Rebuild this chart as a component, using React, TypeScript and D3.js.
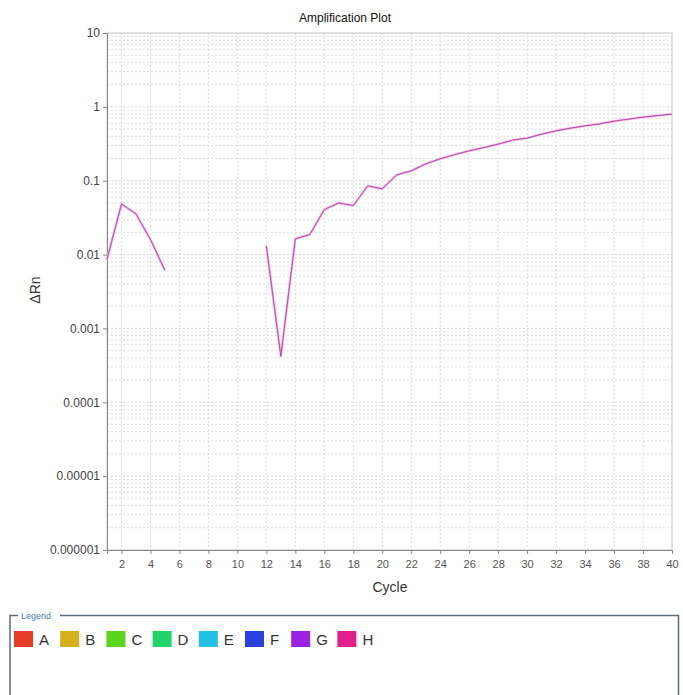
import React, { useEffect, useRef } from "react";
import * as d3 from "d3";

const cycles: number[] = Array.from({ length: 40 }, (_, i) => i + 1);
// ΔRn values per cycle for well H (null = no data)
const deltaRn: (number | null)[] = [
  0.0086, 0.0485, 0.0355, 0.016, 0.0061,
  null, null, null, null, null, null,
  0.013, 0.00042, 0.0163, 0.0187, 0.0406, 0.05, 0.046, 0.0853, 0.0777,
  0.12, 0.136, 0.169, 0.198, 0.226, 0.254, 0.281, 0.313, 0.354, 0.377,
  0.427, 0.474, 0.515, 0.553, 0.589, 0.64, 0.682, 0.726, 0.762, 0.797,
];
const yTickValues: number[] = [10, 1, 0.1, 0.01, 0.001, 0.0001, 0.00001, 0.000001];
const yTickLabels: string[] = ["10", "1", "0.1", "0.01", "0.001", "0.0001", "0.00001", "0.000001"];
const xTickValues: number[] = [2, 4, 6, 8, 10, 12, 14, 16, 18, 20, 22, 24, 26, 28, 30, 32, 34, 36, 38, 40];
const legendNames: string[] = ["A", "B", "C", "D", "E", "F", "G", "H"];
const legendColors: string[] = ["#e63b24", "#d6b01a", "#5ad41c", "#22d36a", "#1fc2e2", "#2a3fe0", "#9a22e0", "#e21f8c"];

const W = 683;
const H = 695;
const M = { left: 107, right: 672, top: 33, bottom: 550 };
const FONT = "'Liberation Sans', Arial, sans-serif";

export default function App() {
  const ref = useRef<SVGSVGElement | null>(null);

  useEffect(() => {
    const svg = d3.select(ref.current);
    svg.selectAll("*").remove();

    const x = d3.scaleLinear().domain([1, 40]).range([M.left, M.right]);
    const y = d3.scaleLog().domain([0.000001, 10]).range([M.bottom, M.top]);

    svg.append("rect").attr("width", W).attr("height", H).attr("fill", "#ffffff");

    // title
    svg.append("text").attr("x", 345).attr("y", 22).attr("text-anchor", "middle")
      .attr("font-family", FONT).attr("font-size", 12).attr("fill", "#111").text("Amplification Plot");

    const grid = svg.append("g");
    // horizontal minor grid
    const minor: number[] = [];
    for (let e = -6; e < 1; e++) {
      for (let m = 2; m <= 9; m++) minor.push(m * Math.pow(10, e));
    }
    grid.selectAll("line.hmin").data(minor).join("line")
      .attr("x1", M.left).attr("x2", M.right)
      .attr("y1", (d) => y(d)).attr("y2", (d) => y(d))
      .attr("stroke", "#dedede").attr("stroke-width", 1).attr("stroke-dasharray", "2,2");
    grid.selectAll("line.hmaj").data(yTickValues).join("line")
      .attr("x1", M.left).attr("x2", M.right)
      .attr("y1", (d) => y(d)).attr("y2", (d) => y(d))
      .attr("stroke", "#d6d6d6").attr("stroke-width", 1).attr("stroke-dasharray", "2,2");
    grid.selectAll("line.v").data(xTickValues).join("line")
      .attr("x1", (d) => x(d)).attr("x2", (d) => x(d))
      .attr("y1", M.top).attr("y2", M.bottom)
      .attr("stroke", "#dcdcdc").attr("stroke-width", 1).attr("stroke-dasharray", "2,2");

    // plot outline
    svg.append("rect").attr("x", M.left).attr("y", M.top)
      .attr("width", M.right - M.left).attr("height", M.bottom - M.top)
      .attr("fill", "none").attr("stroke", "#cccccc");

    // axes
    const yAxis = d3.axisLeft(y).tickValues(yTickValues)
      .tickFormat((d, i) => yTickLabels[i]).tickSize(4).tickPadding(3);
    const gy = svg.append("g").attr("transform", `translate(${M.left},0)`).call(yAxis);
    gy.select(".domain").attr("stroke", "#888");
    gy.selectAll(".tick line").attr("stroke", "#888");
    gy.selectAll(".tick text").attr("font-family", FONT).attr("font-size", 12).attr("fill", "#444");

    const xAxis = d3.axisBottom(x).tickValues(xTickValues).tickFormat(d3.format("d")).tickSize(4).tickPadding(6);
    const gx = svg.append("g").attr("transform", `translate(0,${M.bottom})`).call(xAxis);
    gx.select(".domain").attr("stroke", "#888");
    gx.selectAll(".tick line").attr("stroke", "#888");
    gx.selectAll(".tick text").attr("font-family", FONT).attr("font-size", 11).attr("fill", "#555");

    // axis titles
    svg.append("text").attr("x", 390).attr("y", 592).attr("text-anchor", "middle")
      .attr("font-family", FONT).attr("font-size", 14).attr("fill", "#333").text("Cycle");
    svg.append("text").attr("transform", `translate(40,${290}) rotate(-90)`).attr("text-anchor", "middle")
      .attr("font-family", FONT).attr("font-size", 14).attr("fill", "#333").text("ΔRn");

    // line
    const line = d3.line<number | null>()
      .defined((d) => d !== null)
      .x((d, i) => x(cycles[i]))
      .y((d) => y(d as number));
    svg.append("path").datum(deltaRn).attr("d", line)
      .attr("fill", "none").attr("stroke", "#f2b2ea").attr("stroke-width", 2.4).attr("stroke-linejoin", "round");
    svg.append("path").datum(deltaRn).attr("d", line)
      .attr("fill", "none").attr("stroke", "#b94aa6").attr("stroke-width", 1).attr("stroke-linejoin", "round");

    // legend
    const lg = svg.append("g");
    lg.append("path").attr("d", `M10,${H} L10,615.5 L18,615.5 M60,615.5 L678.5,615.5 L678.5,${H}`)
      .attr("fill", "none").attr("stroke", "#5b6c78").attr("stroke-width", 1.5);
    lg.append("text").attr("x", 21).attr("y", 619).attr("font-family", FONT).attr("font-size", 9)
      .attr("fill", "#4a7db6").text("Legend");
    const items = lg.selectAll("g.item").data(legendNames).join("g")
      .attr("transform", (d, i) => `translate(${14 + i * 46.2},631)`);
    items.append("rect").attr("width", 19).attr("height", 16).attr("fill", (d, i) => legendColors[i]);
    items.append("text").attr("x", 25).attr("y", 13.5).attr("font-family", FONT).attr("font-size", 15)
      .attr("fill", "#333").text((d) => d);
  }, []);

  return (
    <svg ref={ref} width={W} height={H} style={{ position: "absolute", left: 0, top: 0, display: "block" }} />
  );
}
